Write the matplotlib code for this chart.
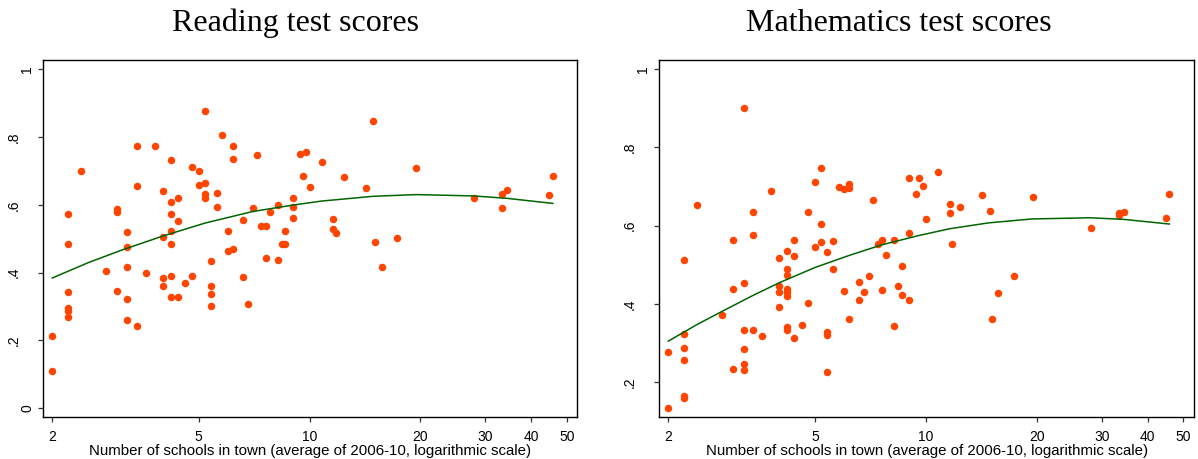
import matplotlib
matplotlib.use('Agg')
import matplotlib.pyplot as plt
import matplotlib.transforms as mtransforms
import numpy as np

# reading scores: number of schools (x) and share (y)
read_x = [2.0, 2.0, 2.2, 2.2, 2.2, 2.2, 2.2, 2.2, 2.4, 2.8,
          3.0, 3.0, 3.0, 3.2, 3.2, 3.2, 3.2, 3.2, 3.4, 3.4,
          3.4, 3.6, 3.8, 4.0, 4.0, 4.0, 4.0, 4.2, 4.2, 4.2,
          4.2, 4.2, 4.2, 4.2, 4.4, 4.4, 4.4, 4.6, 4.8, 4.8,
          5.0, 5.0, 5.2, 5.2, 5.2, 5.2, 5.4, 5.4, 5.4, 5.4,
          5.6, 5.6, 5.8, 6.0, 6.0, 6.2, 6.2, 6.2, 6.6, 6.6,
          6.8, 7.0, 7.2, 7.4, 7.6, 7.6, 7.8, 8.2, 8.2, 8.4,
          8.6, 8.6, 9.0, 9.0, 9.0, 9.4, 9.6, 9.8, 10.0, 10.8,
          11.6, 11.6, 11.8, 12.4, 14.2, 14.9, 15.1, 15.7, 17.3, 19.5,
          28.0, 33.4, 34.4, 33.4, 44.8, 45.8]
read_y = [0.213, 0.111, 0.573, 0.484, 0.343, 0.296, 0.287, 0.268, 0.699, 0.405,
          0.587, 0.578, 0.347, 0.521, 0.475, 0.417, 0.322, 0.260, 0.773, 0.656,
          0.241, 0.400, 0.773, 0.640, 0.504, 0.384, 0.359, 0.732, 0.609, 0.573,
          0.523, 0.483, 0.390, 0.329, 0.621, 0.552, 0.329, 0.369, 0.710, 0.389,
          0.699, 0.658, 0.877, 0.663, 0.631, 0.621, 0.435, 0.360, 0.337, 0.302,
          0.635, 0.592, 0.807, 0.522, 0.465, 0.774, 0.735, 0.469, 0.556, 0.386,
          0.308, 0.589, 0.748, 0.537, 0.536, 0.442, 0.580, 0.600, 0.437, 0.484,
          0.485, 0.522, 0.621, 0.593, 0.562, 0.749, 0.684, 0.757, 0.652, 0.727,
          0.559, 0.529, 0.517, 0.681, 0.650, 0.848, 0.490, 0.417, 0.502, 0.708,
          0.621, 0.633, 0.645, 0.590, 0.628, 0.685]
# fitted curve
read_fit_x = [2.0, 2.5, 3.1, 4.0, 5.2, 7.0, 9.0, 10.8, 14.9, 19.5, 28.0, 34.4, 45.8]
read_fit_y = [0.384, 0.429, 0.467, 0.508, 0.546, 0.580, 0.599, 0.611, 0.625, 0.630, 0.626, 0.619, 0.604]

# mathematics scores
math_x = [2.0, 2.0, 2.2, 2.2, 2.2, 2.2, 2.2, 2.2, 2.4, 2.8,
          3.0, 3.0, 3.0, 3.2, 3.2, 3.2, 3.2, 3.2, 3.2, 3.4,
          3.4, 3.4, 3.6, 3.8, 4.0, 4.0, 4.0, 4.0, 4.2, 4.2,
          4.2, 4.2, 4.2, 4.2, 4.2, 4.2, 4.4, 4.4, 4.4, 4.6,
          4.8, 4.8, 5.0, 5.0, 5.2, 5.2, 5.2, 5.4, 5.4, 5.4,
          5.4, 5.6, 5.6, 5.8, 6.0, 6.0, 6.2, 6.2, 6.2, 6.6,
          6.6, 6.8, 7.0, 7.2, 7.4, 7.6, 7.6, 7.8, 8.2, 8.2,
          8.4, 8.6, 8.6, 9.0, 9.0, 9.0, 9.4, 9.6, 9.8, 10.0,
          10.8, 11.6, 11.6, 11.8, 12.4, 14.2, 14.9, 15.1, 15.7, 17.3,
          19.5, 28.0, 33.4, 34.4, 33.4, 44.8, 45.8]
math_y = [0.277, 0.134, 0.512, 0.323, 0.288, 0.257, 0.165, 0.160, 0.653, 0.372,
          0.564, 0.439, 0.233, 0.900, 0.454, 0.333, 0.286, 0.247, 0.231, 0.636,
          0.577, 0.334, 0.319, 0.688, 0.518, 0.446, 0.430, 0.392, 0.536, 0.489,
          0.475, 0.438, 0.430, 0.420, 0.342, 0.334, 0.562, 0.523, 0.314, 0.346,
          0.636, 0.402, 0.712, 0.546, 0.748, 0.605, 0.559, 0.533, 0.329, 0.320,
          0.227, 0.561, 0.490, 0.698, 0.694, 0.434, 0.696, 0.705, 0.361, 0.456,
          0.409, 0.430, 0.471, 0.665, 0.553, 0.563, 0.436, 0.525, 0.563, 0.344,
          0.446, 0.497, 0.422, 0.722, 0.580, 0.411, 0.682, 0.721, 0.701, 0.618,
          0.738, 0.654, 0.632, 0.554, 0.648, 0.677, 0.638, 0.362, 0.428, 0.471,
          0.673, 0.595, 0.632, 0.634, 0.626, 0.619, 0.680]
math_fit_x = [2.0, 2.4, 2.8, 3.4, 4.0, 5.0, 6.2, 7.6, 9.6, 11.6, 14.8, 19.4, 27.9, 34.4, 45.8]
math_fit_y = [0.305, 0.348, 0.381, 0.422, 0.454, 0.493, 0.524, 0.551, 0.575, 0.592,
              0.607, 0.617, 0.620, 0.616, 0.604]

titles = ['Reading test scores', 'Mathematics test scores']
xlabel = 'Number of schools in town (average of 2006-10, logarithmic scale)'
xticks = [2, 5, 10, 20, 30, 40, 50]
yticks_read = [0, 0.2, 0.4, 0.6, 0.8, 1]
yticks_math = [0.2, 0.4, 0.6, 0.8, 1]

dot_c = '#FF4500'
line_c = '#006400'

fig = plt.figure(figsize=(11.98, 4.59), dpi=100)
fig.patch.set_facecolor('white')
plt.rcParams['font.family'] = ['Liberation Sans', 'DejaVu Sans']

panels = [
    (read_x, read_y, read_fit_x, read_fit_y, yticks_read, (-0.025, 1.027),
     [0.0361, 0.0922, 0.4458, 0.7771], 295.5),
    (math_x, math_y, math_fit_x, math_fit_y, yticks_math, (0.112, 1.023),
     [0.5503, 0.0922, 0.4463, 0.7771], 898.5),
]

for i, (xs, ys, fx, fy, yt, ylim, pos, tx) in enumerate(panels):
    ax = fig.add_axes(pos)
    ax.plot(xs, ys, 'o', ms=5.4, color=dot_c, mec=dot_c, mew=0, zorder=3)
    ax.plot(fx, fy, color=line_c, lw=1.1, zorder=4)

    ax.set_xscale('log')
    ax.set_xlim(1.89, 53.4)
    ax.set_ylim(*ylim)
    ax.xaxis.set_minor_locator(matplotlib.ticker.NullLocator())
    ax.set_xticks(xticks)
    ax.set_xticklabels([str(t) for t in xticks])
    ax.set_yticks(yt)
    ax.set_yticklabels(['0' if t == 0 else ('1' if t == 1 else ('%.1f' % t)[1:]) for t in yt])
    ax.tick_params(axis='both', direction='out', length=3.6, width=0.9, color='#333333',
                   labelsize=10)
    ax.tick_params(axis='x', pad=6)
    ax.tick_params(axis='y', pad=3, labelrotation=90)
    for lab in ax.get_yticklabels():
        lab.set_verticalalignment('center')
        if lab.get_text() not in ('0', '1'):
            off = mtransforms.ScaledTranslation(-0.13, 0, fig.dpi_scale_trans)
            lab.set_transform(lab.get_transform() + off)
    for s in ax.spines.values():
        s.set_linewidth(1.0)
        s.set_color('black')
    ax.set_xlabel(xlabel, fontsize=10.85, labelpad=0)

    fig.text(tx / 1198, 1 - 30.7 / 459, titles[i], ha='center', va='baseline',
             fontsize=23, family=['Liberation Serif', 'DejaVu Serif'])

fig.savefig('out.png', dpi=100, facecolor='white')
